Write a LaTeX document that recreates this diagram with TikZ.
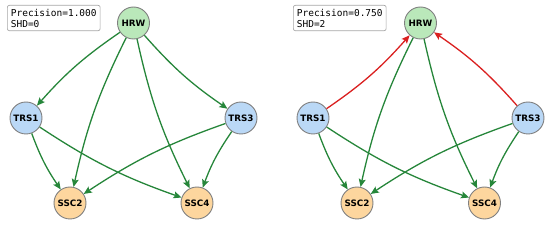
\documentclass[tikz,border=0pt]{standalone}
\definecolor{edgeGreen}{RGB}{38,134,58}
\definecolor{edgeRed}{RGB}{218,32,32}
\definecolor{hrwGreen}{RGB}{186,232,186}
\definecolor{trsBlue}{RGB}{186,216,246}
\definecolor{sscOrange}{RGB}{253,214,158}
\usepackage{fontspec}
\newfontfamily\labelfont{DejaVu Sans}
\newfontfamily\metricfont{DejaVu Sans Mono}
\usepackage{tikz}
\usetikzlibrary{arrows.meta,positioning}

\begin{document}
\begin{tikzpicture}[x=1pt,y=-1pt,
    var/.style={circle,draw=gray,line width=0.9pt,minimum size=32pt,inner sep=0pt,
      font=\labelfont\bfseries\fontsize{8.8}{10}\selectfont},
    edge/.style={-{Stealth[length=8pt,width=7pt,inset=1.5pt]},line width=1.3pt,bend right=7},
    metricbox/.style={draw=gray!70,line width=0.7pt,rounded corners=2pt,fill=white,align=left,anchor=north west,
      inner sep=3.5pt,font=\metricfont\fontsize{9.5}{11}\selectfont}]
        \useasboundingbox (0,0) rectangle (550,227);
        % Left: true graph
        \node[var,fill=hrwGreen] (hL) at (133.5,23) {HRW};
        \node[var,fill=trsBlue] (t1L) at (26,118) {TRS1};
        \node[var,fill=trsBlue] (t3L) at (241,118) {TRS3};
        \node[var,fill=sscOrange] (s2L) at (70,203) {SSC2};
        \node[var,fill=sscOrange] (s4L) at (197,203) {SSC4};
        \node[metricbox] (mL) at (7,5) {Precision=1.000\\SHD=0};
        \draw[edge,edgeGreen] (hL) to (t1L);
        \draw[edge,edgeGreen] (hL) to (t3L);
        \draw[edge,edgeGreen] (hL) to (s2L);
        \draw[edge,edgeGreen] (hL) to (s4L);
        \draw[edge,edgeGreen] (t1L) to (s2L);
        \draw[edge,edgeGreen] (t1L) to (s4L);
        \draw[edge,edgeGreen] (t3L) to (s2L);
        \draw[edge,edgeGreen] (t3L) to (s4L);
        % Right: learned graph
        \node[var,fill=hrwGreen] (hR) at (420.5,23) {HRW};
        \node[var,fill=trsBlue] (t1R) at (313,118) {TRS1};
        \node[var,fill=trsBlue] (t3R) at (528,118) {TRS3};
        \node[var,fill=sscOrange] (s2R) at (357,203) {SSC2};
        \node[var,fill=sscOrange] (s4R) at (484.5,203) {SSC4};
        \node[metricbox] (mR) at (293,5) {Precision=0.750\\SHD=2};
        \draw[edge,edgeRed] (t1R) to (hR);
        \draw[edge,edgeRed] (t3R) to (hR);
        \draw[edge,edgeGreen] (hR) to (s2R);
        \draw[edge,edgeGreen] (hR) to (s4R);
        \draw[edge,edgeGreen] (t1R) to (s2R);
        \draw[edge,edgeGreen] (t1R) to (s4R);
        \draw[edge,edgeGreen] (t3R) to (s2R);
        \draw[edge,edgeGreen] (t3R) to (s4R);
      \end{tikzpicture}
\end{document}
